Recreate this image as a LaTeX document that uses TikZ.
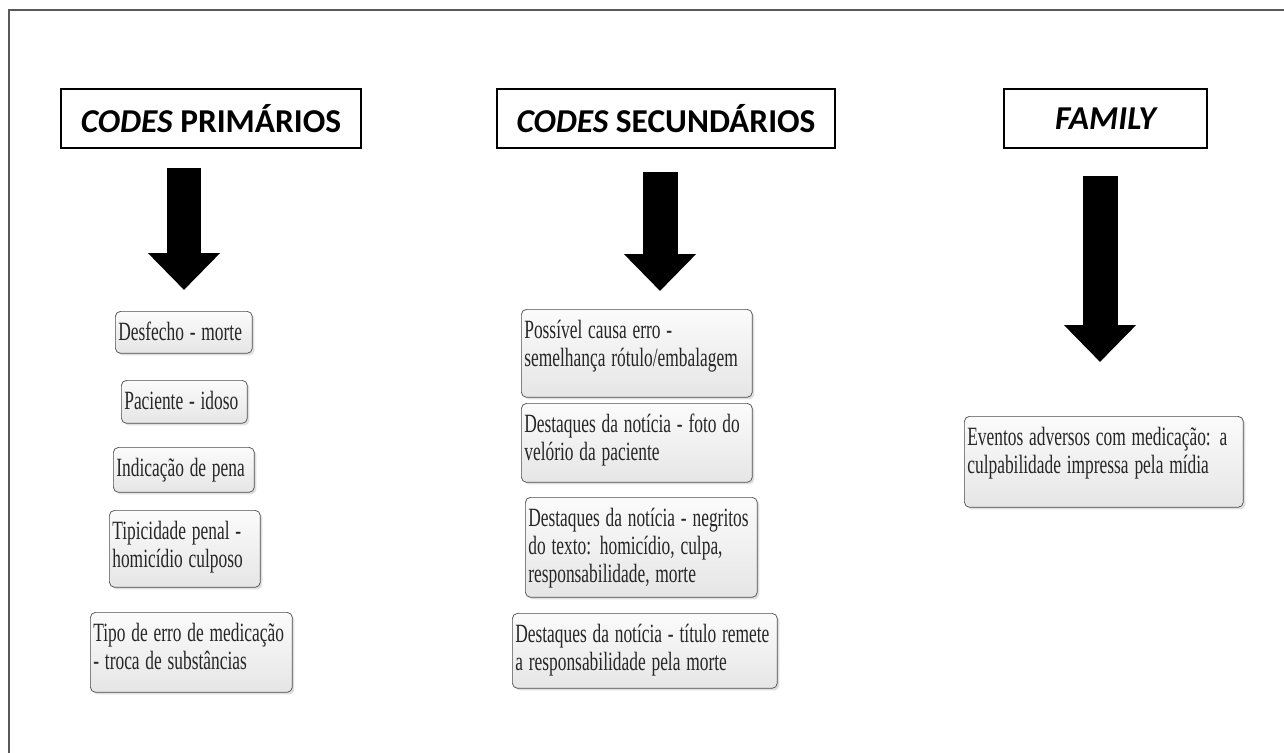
\documentclass[tikz,border=0pt]{standalone}
\usepackage{fontspec}
\usepackage{graphicx}
\setmainfont{Liberation Serif}
\newfontfamily\boxfont{Liberation Serif}
\newfontfamily\headfont{Carlito}
\usetikzlibrary{arrows.meta,shadows}
\newcommand\squeeze[1]{\scalebox{0.66}[1]{\begin{tabular}[t]{@{}l@{}}#1\end{tabular}}}

\begin{document}
\begin{tikzpicture}[x=0.02cm, y=-0.02cm]
        \tikzstyle{every node}=[font=\boxfont\fontsize{15}{16}\selectfont]
        \tikzstyle{headbox}=[draw, line width=1.2pt, fill=white, anchor=north west, minimum height=1.18cm, inner sep=0pt, font=\headfont\fontsize{19}{22}\selectfont\bfseries]
        \tikzstyle{codebox}=[draw=gray!60!black, rounded corners=3pt, top color=gray!3, bottom color=gray!20, drop shadow={shadow xshift=1.2pt, shadow yshift=-1.2pt, opacity=0.25}, anchor=north west, align=left, inner xsep=0.06cm, inner ysep=0.06cm, text height=0.52cm, text=black!85]
        \tikzstyle{bigarrow}=[line width=0.7cm, -{Triangle[width=1.4cm, length=0.74cm]}]
        \useasboundingbox (0,0) rectangle (1284,753);
        \draw [gray!70!black, line width=0.8pt] (9,753) -- (9,10) -- (1284,10);
        % headers
        \node [headbox, minimum width=6cm] (hp) at (60,88) {\itshape CODES\upshape\ PRIMÁRIOS};
        \node [headbox, minimum width=6.76cm] (hs) at (496,88) {\itshape CODES\upshape\ SECUNDÁRIOS};
        \node [headbox, minimum width=4.06cm] (hf) at (1003,88) {\itshape FAMILY};
        % arrows
        \coordinate (a1s) at (184,168);
        \coordinate (a1e) at (184,290);
        \coordinate (a2s) at (660,172);
        \coordinate (a2e) at (660,291);
        \coordinate (a3s) at (1100,176);
        \coordinate (a3e) at (1100,362);
        \draw [bigarrow] (a1s) -- (a1e);
        \draw [bigarrow] (a2s) -- (a2e);
        \draw [bigarrow] (a3s) -- (a3e);
        % codes primarios
        \node [codebox, text width=2.62cm, text depth=0.20cm] (p1) at (115,311) {\squeeze{Desfecho - morte}};
        \node [codebox, text width=2.40cm, text depth=0.22cm] (p2) at (121,380) {\squeeze{Paciente - idoso}};
        \node [codebox, text width=2.70cm, text depth=0.26cm] (p3) at (113,447) {\squeeze{Indicação de pena}};
        \node [codebox, text width=2.90cm, text depth=0.90cm] (p4) at (109,510) {\squeeze{Tipicidade penal -\\homicídio culposo}};
        \node [codebox, text width=3.92cm, text depth=0.96cm] (p5) at (90,612) {\squeeze{Tipo de erro de medicação\\- troca de substâncias}};
        % codes secundarios
        \node [codebox, text width=4.50cm, text depth=1.12cm] (s1) at (521,309) {\squeeze{Possível causa erro -\\semelhança rótulo/embalagem}};
        \node [codebox, text width=4.50cm, text depth=0.94cm] (s2) at (521,403) {\squeeze{Destaques da notícia - foto do\\velório da paciente}};
        \node [codebox, text width=4.52cm, text depth=1.36cm] (s3) at (525,497) {\squeeze{Destaques da notícia - negritos\\do texto: homicídio, culpa,\\responsabilidade, morte}};
        \node [codebox, text width=5.18cm, text depth=0.86cm] (s4) at (512,613) {\squeeze{Destaques da notícia - título remete\\a responsabilidade pela morte}};
        % family
        \node [codebox, text width=5.46cm, text depth=1.18cm] (f1) at (964,416) {\squeeze{Eventos adversos com medicação: a\\culpabilidade impressa pela mídia}};
\end{tikzpicture}
\end{document}
